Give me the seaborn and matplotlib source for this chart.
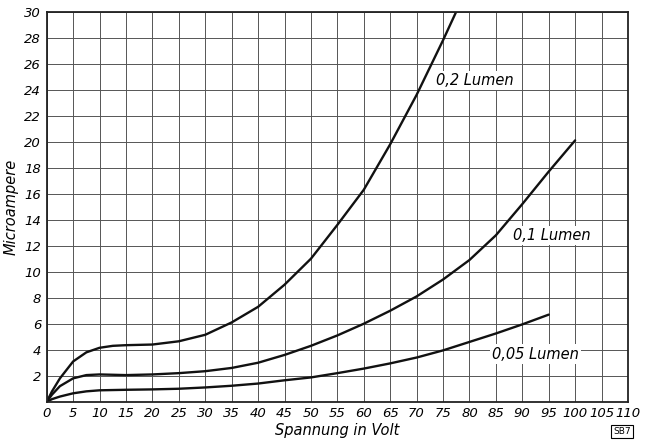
# Photocell current vs. voltage (three light levels)

import pandas as pd
import matplotlib
matplotlib.use("Agg")
import matplotlib.pyplot as plt
import seaborn as sns

# Data
volt_02 = [0, 1, 2.5, 5, 7.5, 10, 12.5, 15, 20, 25, 30, 35, 40, 45, 50, 55, 60, 65, 70, 75, 77.5]
amp_02 = [0, 0.8, 1.8, 3.1, 3.8, 4.15, 4.3, 4.35, 4.4, 4.65, 5.15, 6.1, 7.3, 9.0, 11.0, 13.6, 16.3, 19.8, 23.6, 27.8, 30]

volt_01 = [0, 1, 2.5, 5, 7.5, 10, 15, 20, 25, 30, 35, 40, 45, 50, 55, 60, 65, 70, 75, 80, 85, 90, 95, 100]
amp_01 = [0, 0.55, 1.2, 1.8, 2.05, 2.1, 2.05, 2.1, 2.2, 2.35, 2.6, 3.0, 3.6, 4.3, 5.1, 6.0, 7.0, 8.1, 9.4, 10.9, 12.8, 15.2, 17.7, 20.1]

volt_005 = [0, 1, 2.5, 5, 7.5, 10, 15, 20, 25, 30, 35, 40, 45, 50, 55, 60, 65, 70, 75, 80, 85, 90, 95]
amp_005 = [0, 0.2, 0.4, 0.65, 0.8, 0.88, 0.92, 0.95, 1.0, 1.1, 1.23, 1.4, 1.65, 1.87, 2.2, 2.55, 2.95, 3.4, 3.95, 4.6, 5.25, 5.95, 6.7]

labels = ["0,2 Lumen", "0,1 Lumen", "0,05 Lumen"]
label_pos = [(73.7, 24.7), (88.3, 12.8), (84.3, 3.67)]

x_ticks = list(range(0, 111, 5))
y_ticks = list(range(2, 31, 2))

df = pd.concat([
    pd.DataFrame({"volt": volt_02, "amp": amp_02, "curve": labels[0]}),
    pd.DataFrame({"volt": volt_01, "amp": amp_01, "curve": labels[1]}),
    pd.DataFrame({"volt": volt_005, "amp": amp_005, "curve": labels[2]}),
])

sns.set_style("white")
plt.rcParams["font.family"] = ["DejaVu Sans"]
plt.rcParams["text.color"] = "black"
plt.rcParams["axes.labelcolor"] = "black"
plt.rcParams["xtick.color"] = "black"
plt.rcParams["ytick.color"] = "black"

fig = plt.figure(figsize=(6.49, 4.41), dpi=100)
ax = fig.add_axes([0.072, 0.089, 0.8956, 0.8846])

sns.lineplot(data=df, x="volt", y="amp", hue="curve", palette=["#111111"] * 3,
             linewidth=1.7, legend=False, sort=False, ax=ax)

ax.set_xlim(0, 110)
ax.set_ylim(0, 30)
ax.set_xticks(x_ticks)
ax.set_yticks(y_ticks)
ax.set_xticklabels([str(t) for t in x_ticks], fontstyle="italic", fontsize=9.5)
ax.set_yticklabels([str(t) for t in y_ticks], fontstyle="italic", fontsize=9.5)
ax.tick_params(length=0, pad=4)
ax.grid(True, color="#555555", linewidth=0.7)
ax.set_axisbelow(True)
for s in ax.spines.values():
    s.set_color("#222222")
    s.set_linewidth(1.3)

ax.set_xlabel("Spannung in Volt", fontstyle="italic", fontsize=10.5, labelpad=2)
ax.set_ylabel("Microampere", fontstyle="italic", fontsize=10.5, labelpad=4)

for txt, (x, y) in zip(labels, label_pos):
    ax.text(x, y, txt, fontstyle="italic", fontsize=10.5, va="center", ha="left",
            bbox=dict(facecolor="white", edgecolor="none", pad=1.5))

fig.text(0.958, 0.022, "SB7", fontsize=6.5, ha="center", va="center",
         bbox=dict(facecolor="white", edgecolor="black", linewidth=0.8, pad=1.5))

fig.savefig("out.png", dpi=100)
